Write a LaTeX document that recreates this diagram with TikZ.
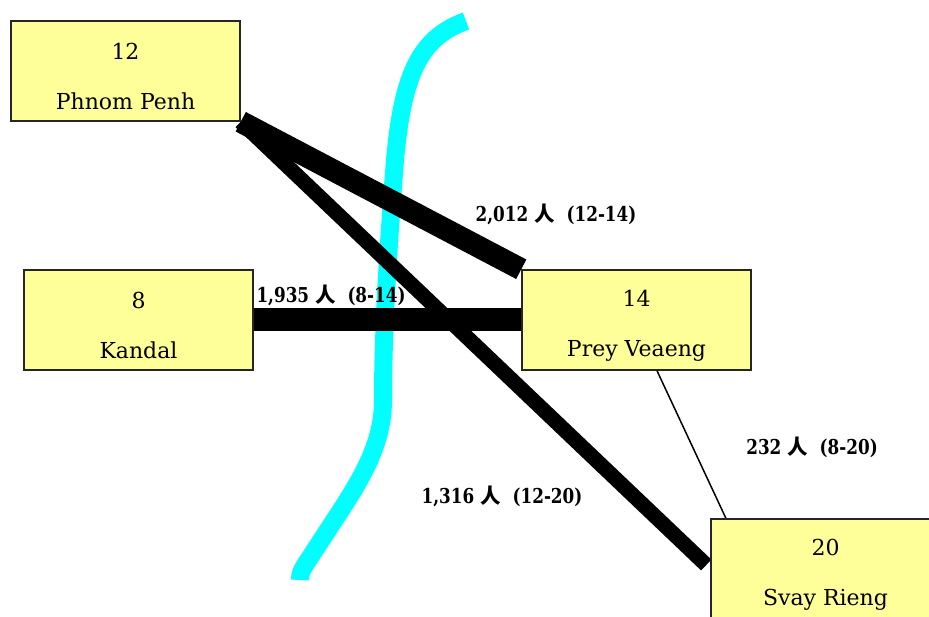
\documentclass[tikz,border=0pt]{standalone}
\usepackage{fontspec}
\setmainfont{DejaVu Serif}
\newfontfamily\lblfont{DejaVu Serif}[FakeStretch=0.82]
\newfontfamily\cjkfont{Noto Sans CJK SC}
\usetikzlibrary{backgrounds,calc}
\definecolor{boxyellow}{HTML}{FFFF99}
\definecolor{rivercyan}{HTML}{00FFFF}
\newcommand{\boxtext}[2]{\rule{0pt}{28pt}#1\\#2}
\begin{document}
\begin{tikzpicture}[x=1pt,y=-1pt,
  box/.style={draw=black!85, line width=1.5pt, fill=boxyellow, minimum width=229pt,
    minimum height=100pt, inner sep=0pt, align=center, font=\fontsize{22}{50}\selectfont},
  lbl/.style={inner sep=0pt, font=\lblfont\bfseries\fontsize{20.5}{22}\selectfont},
  flow/.style={draw=black},
  river/.style={draw=rivercyan, line width=18pt}]
\useasboundingbox (0,0) rectangle (929,617);
\node[box] (pp) at (125.5,71) {\boxtext{12}{Phnom Penh}};
\node[box] (kd) at (138.5,320) {\boxtext{8}{Kandal}};
\node[box] (pv) at (636.5,320) {\boxtext{14}{Prey Veaeng}};
\node[box] (sr) at (825.5,569) {\boxtext{20}{Svay Rieng}};
\begin{scope}[on background layer]
  \draw[river] (466,21) .. controls (422,37) and (403,70) .. (395,160)
     .. controls (388,250) and (383,330) .. (383,400)
     .. controls (383,455) and (350,495) .. (311,556)
     .. controls (303,568) and (300,572) .. (300,580);
  \draw[flow, line width=22pt] (pp.south east) -- (pv.north west);
  \draw[flow, line width=15pt] (pp.south east) -- ($(sr.west)+(-4,-4)$);
  \draw[flow, line width=23pt] (kd.east) -- (pv.west);
  \draw[flow, line width=1.5pt] (pv.-68) -- (sr.153);
\end{scope}
\node[lbl] (l1) at (556,214) {2,012 {\cjkfont\bfseries 人}\hspace{0.3em} (12-14)};
\node[lbl] (l2) at (331,295) {1,935 {\cjkfont\bfseries 人}\hspace{0.3em} (8-14)};
\node[lbl] (l3) at (812,447) {232 {\cjkfont\bfseries 人}\hspace{0.3em} (8-20)};
\node[lbl] (l4) at (502,496) {1,316 {\cjkfont\bfseries 人}\hspace{0.3em} (12-20)};
\end{tikzpicture}
\end{document}
